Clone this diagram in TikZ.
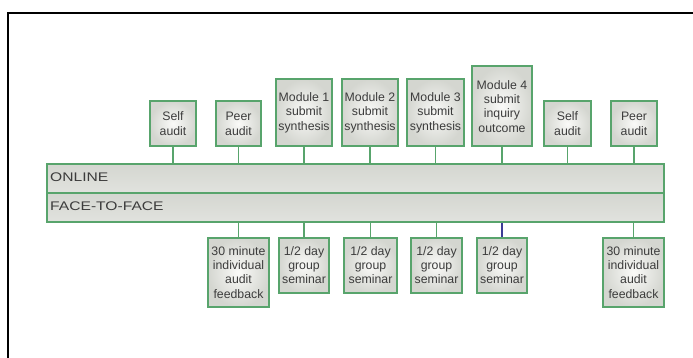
\documentclass[tikz,border=0pt]{standalone}
\usepackage{fontspec}
\setmainfont{Liberation Sans}
\newfontfamily\barfont[FakeStretch=1.25]{Liberation Sans}
\definecolor{boxgreen}{RGB}{88,164,108}
\definecolor{boxtext}{RGB}{60,60,60}
\definecolor{shadeout}{RGB}{212,214,208}
\definecolor{shadein}{RGB}{250,250,248}
\definecolor{linkblue}{RGB}{60,60,150}

\begin{document}
\begin{tikzpicture}[x=1pt,y=-1pt]
        \tikzstyle{every node}=[inner sep=1pt, font=\fontsize{12.3}{14.3}\selectfont, text=boxtext]
        \tikzstyle{box}=[rectangle, draw=boxgreen, line width=1.6pt, align=center, inner color=shadein, outer color=shadeout]
        \tikzstyle{topbox}=[box, anchor=south]
        \tikzstyle{lowbox}=[box, anchor=north]
        \tikzstyle{bar}=[rectangle, draw=boxgreen, line width=1.6pt, anchor=north west, minimum width=617pt, minimum height=29pt, top color=shadeout, middle color=shadein, bottom color=shadeout!70!white]
        \tikzstyle{link}=[boxgreen, line width=1.4pt]

        \useasboundingbox (0,0) rectangle (693,358);
        \draw[line width=2.6pt] (8,358) -- (8,13) -- (693,13);

        \node[bar] (online) at (46,163) {};
        \node[bar] (face) at (46,192) {};
        \node[anchor=west, inner sep=0pt, font=\barfont\fontsize{12.5}{14}\selectfont] (onlinetext) at (50,177.5) {ONLINE};
        \node[anchor=west, inner sep=0pt, font=\barfont\fontsize{12.5}{14}\selectfont] (facetext) at (50,206.5) {FACE-TO-FACE};

        \node[topbox, minimum width=46pt, minimum height=45pt] (self1) at (173,147) {Self\\audit};
        \node[topbox, minimum width=45pt, minimum height=45pt] (peer1) at (238.5,147) {Peer\\audit};
        \node[topbox, minimum width=56pt, minimum height=67pt] (mod1) at (304,147) {Module 1\\submit\\synthesis};
        \node[topbox, minimum width=56pt, minimum height=67pt] (mod2) at (370,147) {Module 2\\submit\\synthesis};
        \node[topbox, minimum width=57pt, minimum height=67pt] (mod3) at (435.5,147) {Module 3\\submit\\synthesis};
        \node[topbox, minimum width=60pt, minimum height=80pt] (mod4) at (502,147) {Module 4\\submit\\inquiry\\outcome};
        \node[topbox, minimum width=47pt, minimum height=45pt] (self2) at (567.5,147) {Self\\audit};
        \node[topbox, minimum width=46pt, minimum height=45pt] (peer2) at (634,147) {Peer\\audit};

        \node[lowbox, minimum width=61pt, minimum height=69pt] (feed1) at (238.5,237) {30 minute\\individual\\audit\\feedback};
        \node[lowbox, minimum width=50pt, minimum height=55pt] (sem1) at (304,237) {1/2 day\\group\\seminar};
        \node[lowbox, minimum width=53pt, minimum height=55pt] (sem2) at (370.5,237) {1/2 day\\group\\seminar};
        \node[lowbox, minimum width=51pt, minimum height=55pt] (sem3) at (436.5,237) {1/2 day\\group\\seminar};
        \node[lowbox, minimum width=50pt, minimum height=55pt] (sem4) at (502,237) {1/2 day\\group\\seminar};
        \node[lowbox, minimum width=61pt, minimum height=69pt] (feed2) at (633.5,237) {30 minute\\individual\\audit\\feedback};

        \foreach \n in {self1,peer1,mod1,mod2,mod3,mod4,self2,peer2}
            \draw[link] (\n.south) -- (\n.south |- online.north);
        \foreach \n in {feed1,sem1,sem2,sem3,feed2}
            \draw[link] (\n.north) -- (\n.north |- face.south);
        \draw[link, linkblue] (sem4.north) -- (sem4.north |- face.south);
    \end{tikzpicture}
\end{document}
